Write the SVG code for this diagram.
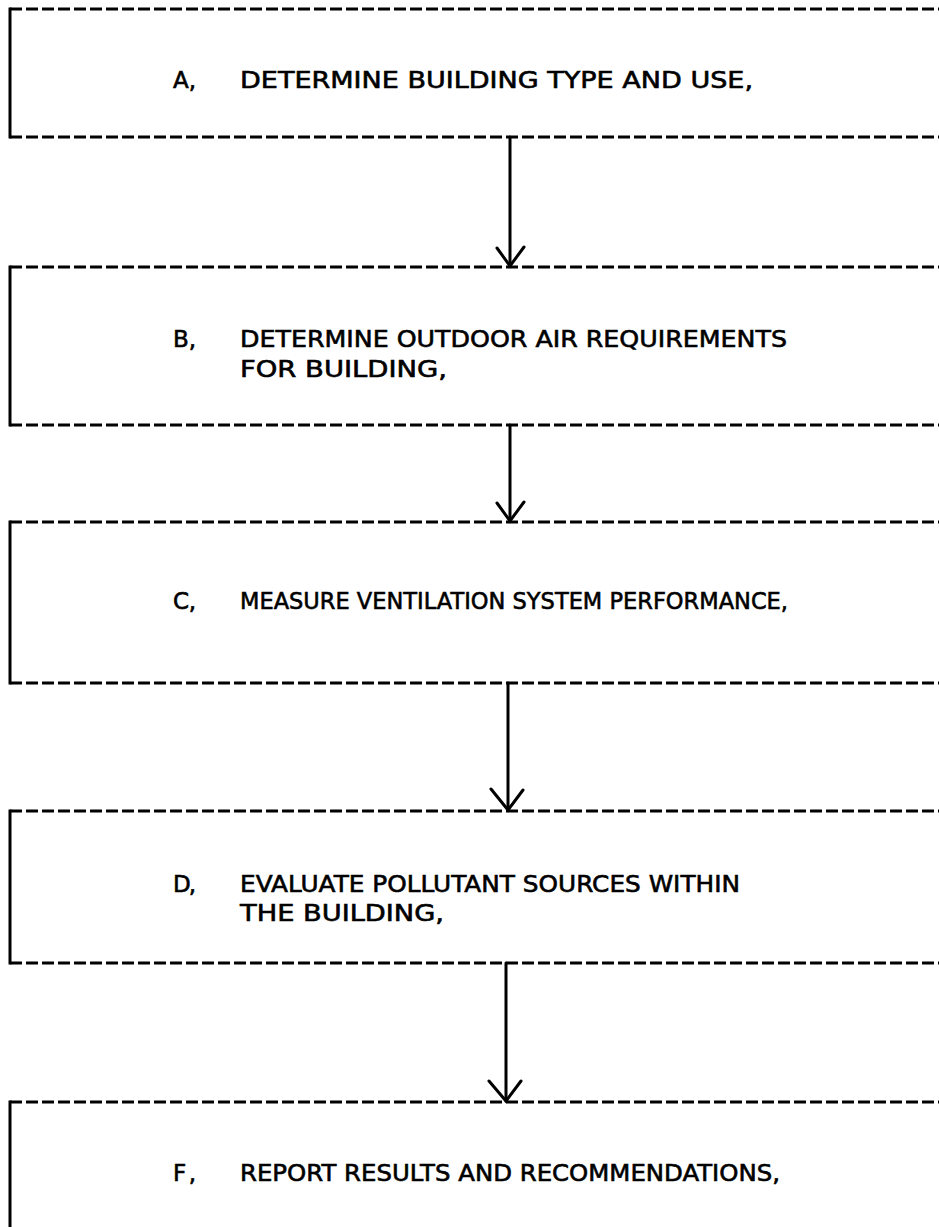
<svg xmlns="http://www.w3.org/2000/svg" width="939" height="1227" viewBox="0 0 939 1227">
  <style>
    .edge { fill: none; stroke: #000; stroke-width: 3; stroke-dasharray: 12 4; }
    .side { fill: none; stroke: #000; stroke-width: 3; }
    .label { font-family: "DejaVu Sans", "Liberation Sans", sans-serif; font-size: 23px; fill: #000; stroke: #000; stroke-width: 0.6px; }
    .flow { fill: none; stroke: #000; stroke-width: 3; stroke-linecap: round; stroke-linejoin: miter; }
  </style>
  <rect width="939" height="1227" fill="#fff"/>

  <!-- Step A -->
  <g id="node-a">
    <line class="edge" x1="10" y1="9" x2="939" y2="9"/>
    <line class="edge" x1="10" y1="137" x2="939" y2="137"/>
    <line class="side" x1="10" y1="7.5" x2="10" y2="138.5"/>
    <text class="label" x="173" y="88" textLength="23" lengthAdjust="spacing">A,</text>
    <text class="label" x="240" y="88" textLength="513" lengthAdjust="spacingAndGlyphs">DETERMINE BUILDING TYPE AND USE,</text>
  </g>

  <!-- Step B -->
  <g id="node-b">
    <line class="edge" x1="10" y1="267" x2="939" y2="267"/>
    <line class="edge" x1="10" y1="425" x2="939" y2="425"/>
    <line class="side" x1="10" y1="265.5" x2="10" y2="426.5"/>
    <text class="label" x="173" y="347" textLength="23" lengthAdjust="spacing">B,</text>
    <text class="label" x="240" y="347" textLength="547" lengthAdjust="spacingAndGlyphs">DETERMINE OUTDOOR AIR REQUIREMENTS</text>
    <text class="label" x="240" y="377" textLength="207" lengthAdjust="spacingAndGlyphs">FOR BUILDING,</text>
  </g>

  <!-- Step C -->
  <g id="node-c">
    <line class="edge" x1="10" y1="522" x2="939" y2="522"/>
    <line class="edge" x1="10" y1="683" x2="939" y2="683"/>
    <line class="side" x1="10" y1="520.5" x2="10" y2="684.5"/>
    <text class="label" x="173" y="609" textLength="23" lengthAdjust="spacing">C,</text>
    <text class="label" x="240" y="609" textLength="548" lengthAdjust="spacingAndGlyphs">MEASURE VENTILATION SYSTEM PERFORMANCE,</text>
  </g>

  <!-- Step D -->
  <g id="node-d">
    <line class="edge" x1="10" y1="811" x2="939" y2="811"/>
    <line class="edge" x1="10" y1="963" x2="939" y2="963"/>
    <line class="side" x1="10" y1="809.5" x2="10" y2="964.5"/>
    <text class="label" x="173" y="892" textLength="23" lengthAdjust="spacing">D,</text>
    <text class="label" x="240" y="892" textLength="500" lengthAdjust="spacingAndGlyphs">EVALUATE POLLUTANT SOURCES WITHIN</text>
    <text class="label" x="240" y="921" textLength="204" lengthAdjust="spacingAndGlyphs">THE BUILDING,</text>
  </g>

  <!-- Step F (open at the bottom of the sheet) -->
  <g id="node-f">
    <line class="edge" x1="10" y1="1102" x2="939" y2="1102"/>
    <line class="side" x1="10" y1="1100.5" x2="10" y2="1227"/>
    <text class="label" x="173" y="1181" textLength="23" lengthAdjust="spacing">F,</text>
    <text class="label" x="240" y="1181" textLength="540" lengthAdjust="spacingAndGlyphs">REPORT RESULTS AND RECOMMENDATIONS,</text>
  </g>

  <!-- Connectors: vertical shafts with open V heads -->
  <g id="connectors">
    <line class="flow" x1="510" y1="137" x2="510" y2="266"/>
    <polyline class="flow" points="497,248 510,266 524,247"/>

    <line class="flow" x1="510" y1="425" x2="510" y2="521"/>
    <polyline class="flow" points="497,503 510,521 524,502"/>

    <line class="flow" x1="508" y1="683" x2="508" y2="810"/>
    <polyline class="flow" points="491,789 508,810 523,790"/>

    <line class="flow" x1="506" y1="963" x2="506" y2="1101"/>
    <polyline class="flow" points="489,1081 506,1101 521,1081"/>
  </g>
</svg>
